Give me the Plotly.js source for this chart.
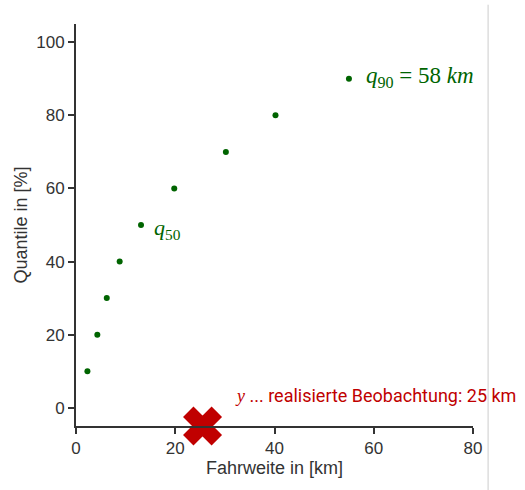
<!DOCTYPE html>
<html><head><meta charset="utf-8">
<script src="https://cdn.plot.ly/plotly-3.0.1.min.js"></script>
<style>body{margin:0;background:#fff}#c{width:525px;height:490px}</style>
</head><body><div id="c"></div>
<script>
const quantiles = [10, 20, 30, 40, 50, 60, 70, 80, 90];
const distances = [2.3, 4.3, 6.2, 8.8, 13.1, 19.8, 30.2, 40.2, 55.0];
const observation = [25.5];
const observationY = [-5];
const xTicks = [0, 20, 40, 60, 80];
const yTicks = [0, 20, 40, 60, 80, 100];

const green = '#006400';
const red = '#c00000';
const traces = [
  {x: distances, y: quantiles, type: 'scatter', mode: 'markers',
   marker: {color: green, size: 6}, cliponaxis: false, hoverinfo: 'skip'},
  {x: observation, y: observationY, type: 'scatter', mode: 'markers',
   marker: {color: red, size: 32, symbol: 'x', line: {width: 2, color: red}}, cliponaxis: false, hoverinfo: 'skip'}
];
const tickFont = {family: 'Liberation Sans, Arial, sans-serif', size: 17, color: '#333'};
const titleFont = {family: 'Liberation Sans, Arial, sans-serif', size: 18, color: '#333'};
const layout = {
  width: 525, height: 490,
  margin: {l: 76, r: 52, t: 24, b: 64},
  paper_bgcolor: '#fff', plot_bgcolor: '#fff',
  showlegend: false,
  xaxis: {range: [0, 80], tickvals: xTicks, showgrid: false, zeroline: false,
    showline: true, linecolor: '#333', linewidth: 2, ticks: 'outside', ticklen: 6, tickwidth: 2, tickcolor: '#333',
    tickfont: tickFont, title: {text: 'Fahrweite in [km]', font: titleFont, standoff: 1}},
  yaxis: {range: [-5, 105], tickvals: yTicks, showgrid: false, zeroline: false,
    showline: true, linecolor: '#333', linewidth: 2, ticks: 'outside', ticklen: 6, tickwidth: 2, tickcolor: '#333',
    tickfont: tickFont, title: {text: 'Quantile in [%]', font: titleFont, standoff: 4}},
  annotations: [
    {x: 15.3, y: 48.8, xref: 'x', yref: 'y', xanchor: 'left', yanchor: 'middle', showarrow: false,
     text: '<i>q</i><sub>50</sub>', font: {family: 'Liberation Serif, serif', size: 22, color: green}},
    {x: 58, y: 90.5, xref: 'x', yref: 'y', xanchor: 'left', yanchor: 'middle', showarrow: false,
     text: '<i>q</i><sub>90</sub> = 58 <i>km</i>', font: {family: 'Liberation Serif, serif', size: 23, color: green}},
    {x: 31.6, y: 3.3, xref: 'x', yref: 'y', xanchor: 'left', yanchor: 'middle', showarrow: false,
     text: '<i><span style="font-family:Liberation Serif">y</span></i> ... realisierte Beobachtung: 25 km',
     font: {family: 'Roboto, sans-serif', size: 18, color: red}}
  ],
  shapes: [
    {type: 'line', xref: 'paper', yref: 'paper', x0: 1.038, x1: 1.038, y0: -0.16, y1: 1.048,
     line: {color: '#cccccc', width: 1}}
  ]
};
Plotly.newPlot('c', traces, layout, {staticPlot: true, displayModeBar: false});
</script></body></html>
